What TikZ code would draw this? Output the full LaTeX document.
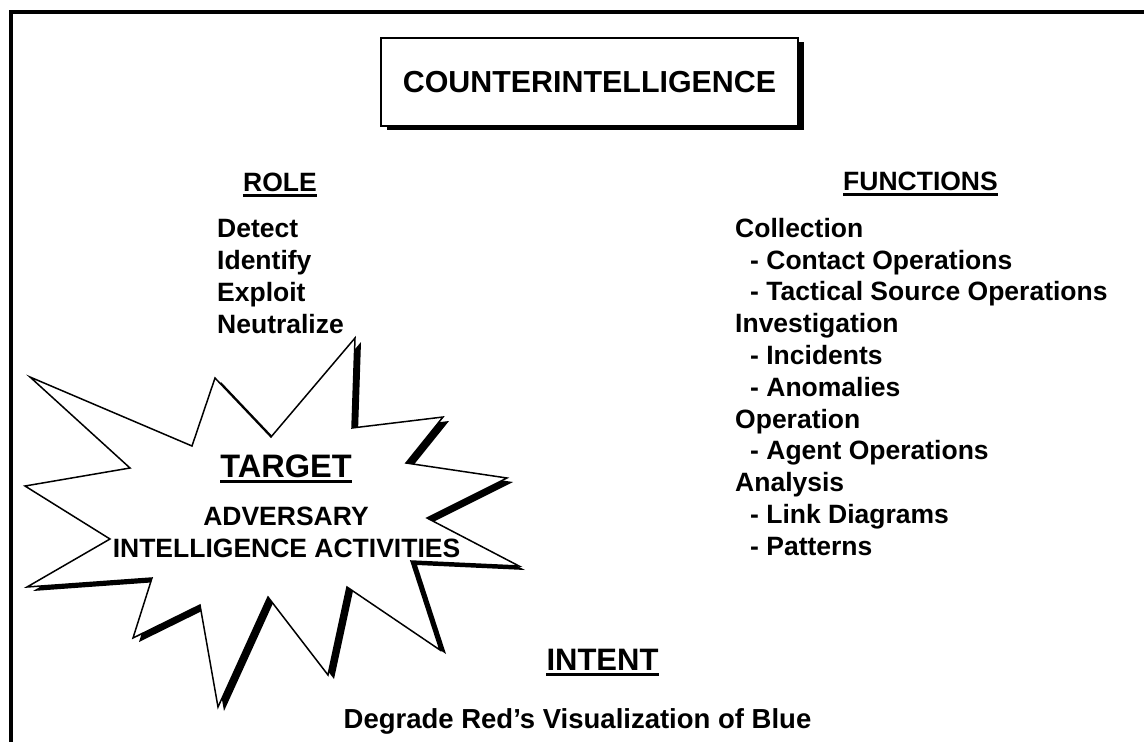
\documentclass[tikz,border=0pt]{standalone}
\usepackage{fontspec}
\setmainfont{Liberation Sans}
\usetikzlibrary{shadows}
\tikzset{
  lbl/.style={inner sep=0pt,font=\bfseries\fontsize{26.5}{31.8}\selectfont},
  big/.style={inner sep=0pt,font=\bfseries\fontsize{#1}{#1}\selectfont},
  uline/.style={line width=3pt},
  hardshadow/.style 2 args={drop shadow={shadow xshift=#1,shadow yshift=#2,opacity=1,fill=black}},
}
\begin{document}
\begin{tikzpicture}[x=1pt,y=-1pt]
\useasboundingbox (0,0) rectangle (1144,742);
\fill[white] (0,0) rectangle (1144,742);
%frame
\draw[line width=4pt] (10.5,11.5) rectangle (1170,770);
%title
\node[draw,fill=white,line width=2.5pt,minimum width=417pt,minimum height=88pt,
  hardshadow={5.5pt}{-4pt},big=30.4] (title) at (589.5,82) {COUNTERINTELLIGENCE};
%role
\node[lbl,anchor=base] (role) at (280,191) {ROLE};
\draw[uline] ([yshift=-4pt]role.base west) -- ([yshift=-4pt]role.base east);
\foreach \w [count=\i] in {Detect,Identify,Exploit,Neutralize}
  \node[lbl,anchor=base west] (role\i) at (217,206+31.8*\i) {\w};
%functions
\node[lbl,anchor=base] (fns) at (920.5,190) {FUNCTIONS};
\draw[uline] ([yshift=-4pt]fns.base west) -- ([yshift=-4pt]fns.base east);
\foreach \d/\w [count=\i] in {0/Collection,1/- Contact Operations,1/- Tactical Source Operations,
  0/Investigation,1/- Incidents,1/- Anomalies,0/Operation,1/- Agent Operations,
  0/Analysis,1/- Link Diagrams,1/- Patterns}
  \node[lbl,anchor=base west] (fn\i) at (735+15*\d,205.5+31.8*\i) {\w};
%starburst
\draw[fill=white,line width=1.5pt,line join=miter,hardshadow={6pt}{-4pt}]
  (30,377)--(192,446)--(215,378)--(271,437)--(355,338)--(352,428)--(443,417)
  --(406,463)--(507,478)--(427,518)--(519,566)--(411,561)--(440,650)--(347,587)
  --(328,675)--(268,597)--(218,707)--(200,605)--(133,638)--(152,578)--(27,587)
  --(110,539)--(25,486)--(130,468)--cycle;
\node[big=32.5,anchor=base] (target) at (286,477) {TARGET};
\draw[uline] ([yshift=-4pt]target.base west) -- ([yshift=-4pt]target.base east);
\node[lbl,anchor=base] (adv) at (286,525) {ADVERSARY};
\node[lbl,anchor=base] (intact) at (286.5,557) {INTELLIGENCE ACTIVITIES};
%intent
\node[big=31,anchor=base] (intent) at (602.5,670) {INTENT};
\draw[uline] ([yshift=-4.5pt]intent.base west) -- ([yshift=-4.5pt]intent.base east);
\node[big=27.5,anchor=base] (degrade) at (577.5,728) {Degrade Red’s Visualization of Blue};
\end{tikzpicture}
\end{document}
